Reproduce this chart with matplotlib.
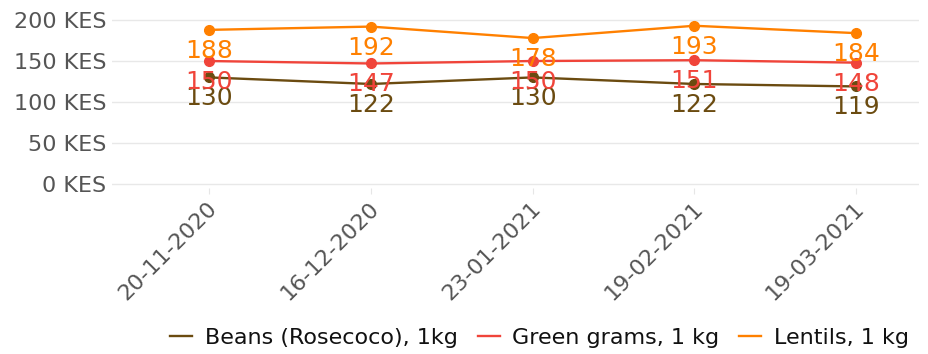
import matplotlib.pyplot as plt
from matplotlib.transforms import ScaledTranslation

dates = ["20-11-2020", "16-12-2020", "23-01-2021", "19-02-2021", "19-03-2021"]
beans = [130, 122, 130, 122, 119]
green_grams = [150, 147, 150, 151, 148]
lentils = [188, 192, 178, 193, 184]

series = [
    ("Beans (Rosecoco), 1kg", beans, "#6b4b10"),
    ("Green grams, 1 kg", green_grams, "#f0443a"),
    ("Lentils, 1 kg", lentils, "#ff8000"),
]

fig = plt.figure(figsize=(9.29, 3.54), dpi=100)
ax = fig.add_axes([0.1206, 0.4686, 0.869, 0.498])

x = list(range(len(dates)))
for name, vals, col in series:
    ax.plot(x, vals, color=col, lw=1.7, marker="o", ms=7, label=name)
for name, vals, col in series:
    for xi, v in zip(x, vals):
        ax.annotate(str(v), (xi, v), xytext=(0, -21), textcoords="offset pixels",
                    ha="center", va="center", fontsize=18, color=col)

ax.set_xlim(-0.6, 4.39)
ax.set_ylim(-5, 210)
ax.set_yticks([0, 50, 100, 150, 200])
ax.set_yticklabels([f"{v} KES" for v in [0, 50, 100, 150, 200]])
ax.set_xticks(x)
ax.set_xticklabels(dates, rotation=45, ha="right", va="center", rotation_mode="anchor")
ax.tick_params(axis="y", length=0, pad=4, labelsize=16, labelcolor="#555555")
ax.tick_params(axis="x", length=4, color="#e6e6e6", pad=10, labelsize=16, labelcolor="#555555")
# nudge the rotated date labels a little right and up
shift = ScaledTranslation(5 / 100, 2 / 100, fig.dpi_scale_trans)
for lbl in ax.get_xticklabels():
    lbl.set_transform(lbl.get_transform() + shift)
ax.grid(axis="y", color="#e8e8e8", lw=1)
ax.set_axisbelow(True)
for s in ax.spines.values():
    s.set_visible(False)

fig.legend(loc="center right", bbox_to_anchor=(0.978, 0.045), ncol=3, frameon=False,
           fontsize=16, handlelength=1.0, handletextpad=0.55, columnspacing=0.9,
           borderpad=0, borderaxespad=0, labelcolor="#111111")
# legend keys as plain lines
for h in fig.legends[0].legend_handles:
    h.set_marker("")

fig.savefig("out.png", dpi=100)
